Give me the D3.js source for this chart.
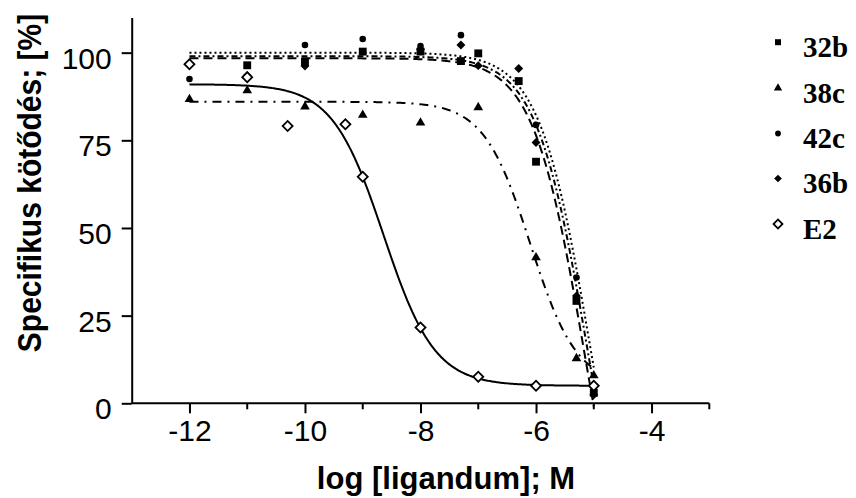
<!DOCTYPE html>
<meta charset="utf-8">
<style>
    body { margin: 0; background: #fff; }
    .axis path, .axis line { stroke: #000; stroke-width: 2px; }
    .axis text { font-family: Arial, "Liberation Sans", sans-serif; font-size: 30px; fill: #000; }
    .fit { fill: none; stroke: #000; stroke-width: 2px; }
</style>
<body>
<script src="https://d3js.org/d3.v7.min.js"></script>
<script>
    var width = 856,
        height = 498;

    // measured points, one array per compound (x = log conc., y = % binding)
    var x32b = [-11, -10, -9, -8, -7.3, -7, -6.3, -6, -5.3, -5];
    var y32b = [96.4, 97.4, 100.3, 100.3, 97.6, 99.8, 91.9, 68.9, 29.2, 3.0];
    var x38c = [-12, -11, -10, -9, -8, -7, -6, -5.3, -5];
    var y38c = [86.7, 89.2, 84.6, 82.2, 80.0, 84.4, 41.6, 12.8, 7.9];
    var x42c = [-12, -10, -9, -8, -7.3, -6, -5.3, -5];
    var y42c = [92.5, 102.2, 103.9, 101.9, 105.0, 79.4, 35.9, 3.8];
    var x36b = [-11, -10, -8, -7.3, -7, -6.3, -6, -5.3, -5];
    var y36b = [93.5, 96.2, 101.0, 102.2, 96.3, 95.5, 74.4, 30.6, 2.4];
    var xE2 = [-12, -11, -10.3, -9.3, -9, -8, -7, -6, -5];
    var yE2 = [96.7, 93.0, 79.1, 79.6, 64.6, 21.6, 7.6, 5.0, 5.0];

    // sigmoid fit parameters per compound
    var seriesNames = ["32b", "38c", "42c", "36b", "E2"];
    var fitTop = [98.4, 86, 100, 99, 91];
    var fitBottom = [-70, 5, -70, -70, 5];
    var fitLogIC50 = [-5.16, -6.10, -5.05, -5.10, -8.64];
    var fitHill = [0.98, 1.08, 0.98, 0.98, 0.98];
    var fitRange = [-12, -5];

    var xTicks = [-12, -10, -8, -6, -4];
    var xMinor = [-11, -9, -7, -5, -3];
    var yTicks = [0, 25, 50, 75, 100];

    var xs = [x32b, x38c, x42c, x36b, xE2];
    var ys = [y32b, y38c, y42c, y36b, yE2];
    var dashes = ["9,5", "9,6,2,6", "2,3", "6,3,2,3", null];
    var symbols = [d3.symbolSquare, d3.symbolTriangle, d3.symbolCircle, d3.symbolSquare, d3.symbolSquare];
    var rotations = [0, 0, 0, 45, 45];
    var sizes = [62, 40, 34, 40, 50];

    var x = d3.scaleLinear().domain([-13, -3]).range([131.7, 709.3]);
    var y = d3.scaleLinear().domain([0, 110]).range([403.3, 17.6]);

    var svg = d3.select("body").append("svg")
        .attr("width", width)
        .attr("height", height);

    // fitted curves
    var line = d3.line()
        .x(function (d) { return x(d[0]); })
        .y(function (d) { return y(d[1]); });

    seriesNames.forEach(function (name, i) {
        var pts = d3.range(fitRange[0], fitRange[1] + 0.001, 0.02).map(function (v) {
            var f = 1 / (1 + Math.pow(10, fitHill[i] * (v - fitLogIC50[i])));
            return [v, fitBottom[i] + (fitTop[i] - fitBottom[i]) * f];
        });
        svg.append("path")
            .attr("class", "fit")
            .attr("d", line(pts))
            .style("stroke-dasharray", dashes[i]);
    });

    // markers
    seriesNames.forEach(function (name, i) {
        var open = name == "E2";
        svg.append("g").selectAll("path")
            .data(xs[i].map(function (v, j) { return [v, ys[i][j]]; }))
            .enter().append("path")
            .attr("d", d3.symbol().type(symbols[i]).size(sizes[i]))
            .attr("transform", function (d) {
                return "translate(" + x(d[0]) + "," + y(d[1]) + ") rotate(" + rotations[i] + ")";
            })
            .style("fill", open ? "#fff" : "#000")
            .style("stroke", "#000")
            .style("stroke-width", open ? 1.8 : 0);
    });

    // axes
    var xAxis = svg.append("g")
        .attr("class", "axis")
        .attr("transform", "translate(0," + y(0) + ")")
        .call(d3.axisBottom(x).tickValues(xTicks).tickSize(10).tickSizeOuter(0).tickPadding(6).tickFormat(d3.format("d")));
    xAxis.select(".domain").attr("d", "M" + x(-13) + ",0H" + x(-3));
    xAxis.selectAll(".tick text").attr("dy", "0.71em").text(function (d) { return d3.format("d")(d).replace("−", "-"); });
    xAxis.selectAll(".minor")
        .data(xMinor)
        .enter().append("line")
        .attr("class", "minor")
        .attr("x1", function (d) { return x(d); })
        .attr("x2", function (d) { return x(d); })
        .attr("y2", 6);

    var yAxis = svg.append("g")
        .attr("class", "axis")
        .attr("transform", "translate(" + x(-13) + ",0)")
        .call(d3.axisLeft(y).tickValues(yTicks).tickSize(10).tickSizeOuter(0).tickPadding(10));
    yAxis.selectAll(".tick text").attr("dy", "0.52em");

    // axis titles
    svg.append("text")
        .attr("x", 446)
        .attr("y", 489)
        .attr("text-anchor", "middle")
        .style("font-family", "Arial, 'Liberation Sans', sans-serif")
        .style("font-weight", "bold")
        .style("font-size", "31px")
        .text("log [ligandum]; M");

    svg.append("text")
        .attr("transform", "translate(41,183) rotate(-90) scale(1,1.12)")
        .attr("text-anchor", "middle")
        .style("font-family", "Arial, 'Liberation Sans', sans-serif")
        .style("font-weight", "bold")
        .style("font-size", "30px")
        .text("Specifikus kötődés; [%]");

    // legend
    var legendY = [56.7, 102.5, 148, 193, 238.5];
    var legendSizes = [36, 30, 26, 30, 40];
    var legend = svg.append("g");
    seriesNames.forEach(function (name, i) {
        var open = name == "E2";
        legend.append("path")
            .attr("d", d3.symbol().type(symbols[i]).size(legendSizes[i]))
            .attr("transform", "translate(778," + (legendY[i] - 14.5) + ") rotate(" + rotations[i] + ")")
            .style("fill", open ? "#fff" : "#000")
            .style("stroke", "#000")
            .style("stroke-width", open ? 1.8 : 0);
        legend.append("text")
            .attr("x", 803)
            .attr("y", legendY[i])
            .style("font-family", "'Liberation Serif', 'Times New Roman', serif")
            .style("font-weight", "bold")
            .style("font-size", "29px")
            .text(name);
    });
</script>
</body>
